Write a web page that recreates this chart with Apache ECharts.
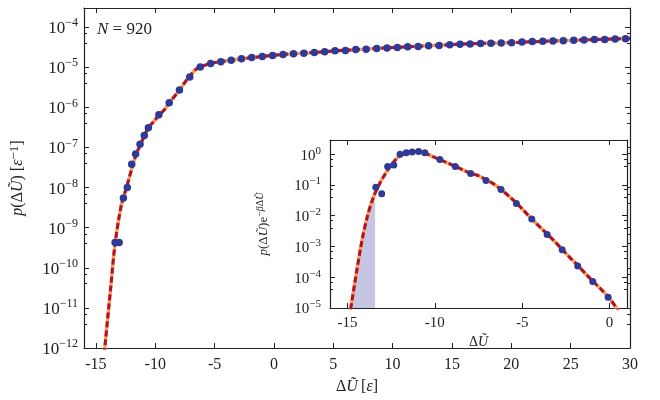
<!DOCTYPE html>
<html><head><meta charset="utf-8">
<script src="https://cdn.jsdelivr.net/npm/echarts@6/dist/echarts.min.js"></script>
<style>html,body{margin:0;padding:0;background:#fff}#c{width:660px;height:400px}</style>
</head><body><div id="c"></div>
<script>
// ---- main panel: histogram points p(dU)
const mainX = [-13.38, -13.04, -12.68, -12.35, -11.98, -11.65, -11.28, -10.92, -10.58, -9.69, -8.82, -7.96, -7.09, -6.20, -5.33, -4.47, -3.60, -2.73, -1.87, -0.98, -0.11, 0.77, 1.65, 2.53, 3.41, 4.28, 5.15, 6.03, 6.90, 7.77, 8.66, 9.53, 10.40, 11.27, 12.15, 13.03, 13.92, 14.81, 15.68, 16.53, 17.41, 18.28, 19.15, 20.02, 20.90, 21.77, 22.65, 23.51, 24.38, 25.26, 26.13, 27.00, 27.87, 28.75, 29.63];
const mainP = [4.3e-10, 4.3e-10, 5.5e-9, 1.0e-8, 3.8e-8, 6.9e-8, 1.2e-7, 2.0e-7, 3.1e-7, 6.5e-7, 1.3e-6, 2.7e-6, 5.75e-6, 1.02e-5, 1.24e-5, 1.38e-5, 1.5e-5, 1.62e-5, 1.74e-5, 1.86e-5, 1.95e-5, 2.09e-5, 2.16e-5, 2.24e-5, 2.34e-5, 2.45e-5, 2.57e-5, 2.63e-5, 2.75e-5, 2.82e-5, 2.92e-5, 3.02e-5, 3.09e-5, 3.24e-5, 3.31e-5, 3.43e-5, 3.47e-5, 3.63e-5, 3.72e-5, 3.80e-5, 3.89e-5, 3.98e-5, 4.03e-5, 4.07e-5, 4.27e-5, 4.37e-5, 4.42e-5, 4.52e-5, 4.57e-5, 4.68e-5, 4.79e-5, 4.90e-5, 4.95e-5, 5.07e-5, 5.13e-5];
// fitted curve, main panel
const fitX = [-14.45, -14.2, -13.75, -13.38, -12.85, -12.35, -12.0, -11.6, -11.2, -10.9, -10.55, -10.1, -9.7, -9.2, -8.8, -8.3, -7.9, -7.5, -7.1, -6.6, -6.2, -5.4, -4.5, -3, -1, 1, 3, 5, 7, 9, 11, 13, 15, 17, 19, 21, 23, 25, 27, 29, 30];
const fitP = [2.5e-13, 1.4e-12, 3.2e-11, 4.0e-10, 3.7e-9, 1.17e-8, 2.8e-8, 6.8e-8, 1.26e-7, 2.0e-7, 3.2e-7, 4.5e-7, 6.3e-7, 8.9e-7, 1.32e-6, 2.0e-6, 2.8e-6, 4.2e-6, 6.0e-6, 8.7e-6, 1.02e-5, 1.23e-5, 1.38e-5, 1.58e-5, 1.86e-5, 2.11e-5, 2.29e-5, 2.54e-5, 2.75e-5, 2.99e-5, 3.2e-5, 3.43e-5, 3.67e-5, 3.89e-5, 4.03e-5, 4.22e-5, 4.47e-5, 4.68e-5, 4.9e-5, 5.13e-5, 5.19e-5];

// ---- inset: reweighted distribution p(dU) e^{-beta dU}
const insetX = [-13.38, -13.04, -12.70, -12.35, -11.99, -11.64, -11.30, -10.93, -10.57, -9.71, -8.83, -7.95, -7.07, -6.21, -5.33, -4.45, -3.57, -2.71, -1.82, -0.96, -0.08];
const insetP = [0.084, 0.052, 0.40, 0.45, 1.0, 1.12, 1.19, 1.22, 1.12, 0.67, 0.40, 0.237, 0.141, 0.071, 0.025, 0.0079, 0.00245, 0.00078, 0.000234, 0.0000724, 0.0000224];
const insetFitX = [-15.1, -14.81, -14.5, -14.15, -13.85, -13.55, -13.2, -12.85, -12.5, -12.1, -11.7, -11.3, -10.9, -10.5, -10.1, -9.7, -9.25, -8.8, -8.35, -7.95, -7.5, -7.1, -6.65, -6.2, -5.75, -5.3, -4.9, -4.45, -4.0, -3.55, -3.1, -2.7, -2.25, -1.8, -1.4, -0.95, -0.5, -0.08, 0.2, 0.45, 0.7];
const insetFitP = [1.26e-6, 1.0e-5, 1.26e-4, 1.78e-3, 0.01, 0.0355, 0.1, 0.224, 0.447, 0.794, 1.1, 1.23, 1.2, 1.05, 0.83, 0.66, 0.513, 0.398, 0.302, 0.24, 0.2, 0.151, 0.11, 0.0708, 0.0427, 0.0251, 0.0145, 0.0079, 0.00437, 0.00251, 0.00138, 0.00079, 0.000427, 0.00024, 0.000135, 0.0000741, 0.0000417, 0.0000229, 0.0000145, 0.0000089, 0.000004];
// shaded region (curve below the cut)
const shadeX = [-15.1, -14.81, -14.5, -14.15, -13.85, -13.55, -13.42];
const shadeP = [1.26e-6, 1.0e-5, 1.26e-4, 1.78e-3, 0.01, 0.0355, 0.045];

const FONT = '"Liberation Serif", "DejaVu Serif", serif';
const AX = '#222';
const BLUE = '#2f3a96';
const RED = '#b3112b';
const ORANGE = '#f3a25c';
const SHADE = '#c4c6e3';

function pairs(xs, ys) { return xs.map((x, i) => [x, ys[i]]); }
function powLabel(v) {
  const l = Math.log10(v); const n = Math.round(l);
  if (Math.abs(l - n) > 1e-6) return '';
  return '{b|10}{s|' + (n < 0 ? '\u2212' + (-n) : n) + '}';
}
function richPow(bs, ss, pad) {
  return {
    b: { fontFamily: FONT, fontSize: bs, color: '#222', verticalAlign: 'bottom' },
    s: { fontFamily: FONT, fontSize: ss, color: '#222', verticalAlign: 'bottom', padding: [0, 0, pad, 0] }
  };
}
function xLab(v) { return (Math.abs(v % 5) < 1e-9) ? String(v) : ''; }

const chart = echarts.init(document.getElementById('c'), null, { renderer: 'canvas' });

const tickIn = { show: true, inside: true, length: 5, lineStyle: { color: AX, width: 1 } };
const minorIn = { show: true, splitNumber: 3, length: 3, lineStyle: { color: AX, width: 1 } };
const line = { show: true, onZero: false, lineStyle: { color: AX, width: 1.2 } };

const nameRich = (fs) => ({
  r: { fontFamily: FONT, fontSize: fs, color: '#222' },
  i: { fontFamily: FONT, fontSize: fs, color: '#222', fontStyle: 'italic' },
  s: { fontFamily: FONT, fontSize: fs - 3, color: '#222', verticalAlign: 'bottom', padding: [0, 0, 7, 0] },
  si: { fontFamily: FONT, fontSize: fs - 3, color: '#222', fontStyle: 'italic', verticalAlign: 'bottom', padding: [0, 0, 7, 0] }
});

const option = {
  animation: false,
  backgroundColor: '#fff',
  grid: [
    { left: 82, right: 30, top: 8, bottom: 48, show: false },
    { left: 330, right: 33, top: 140, bottom: 92, show: true, backgroundColor: '#fff', borderWidth: 0, z: 5 }
  ],
  xAxis: [
    { gridIndex: 0, type: 'value', min: -16, max: 30, splitNumber: 8, position: 'bottom',
      axisLine: line, axisTick: tickIn, splitLine: { show: false },
      axisLabel: { formatter: xLab, showMinLabel: false, margin: 9, fontFamily: FONT, fontSize: 16, color: '#222' },
      name: '{r|\u0394}{i|\u0168} {r|[}{i|\u03b5}{r|]}', nameLocation: 'middle', nameGap: 31,
      nameTextStyle: { rich: nameRich(16) } },
    { gridIndex: 0, type: 'value', min: -16, max: 30, splitNumber: 8, position: 'top',
      axisLine: line, axisTick: tickIn, splitLine: { show: false }, axisLabel: { show: false } },
    { gridIndex: 1, type: 'value', min: -16, max: 1, splitNumber: 4, position: 'bottom', z: 6,
      axisLine: line, axisTick: tickIn, splitLine: { show: false },
      axisLabel: { formatter: xLab, showMinLabel: false, showMaxLabel: false, margin: 8, fontFamily: FONT, fontSize: 15, color: '#222' },
      name: '{r|\u0394}{i|\u0168}', nameLocation: 'middle', nameGap: 27,
      nameTextStyle: { rich: nameRich(14) } },
    { gridIndex: 1, type: 'value', min: -16, max: 1, splitNumber: 4, position: 'top', z: 6,
      axisLine: line, axisTick: tickIn, splitLine: { show: false }, axisLabel: { show: false } }
  ],
  yAxis: [
    { gridIndex: 0, type: 'log', min: 1e-12, max: 3e-4, splitNumber: 8, position: 'left',
      axisLine: line, axisTick: tickIn, minorTick: minorIn, splitLine: { show: false }, minorSplitLine: { show: false },
      axisLabel: { formatter: powLabel, margin: 6, rich: richPow(17, 12, 8) },
      name: '{i|p}{r|(\u0394}{i|\u0168}{r|) [}{i|\u03b5}{s|\u22121}{r|]}', nameLocation: 'middle', nameRotate: 90, nameGap: 56,
      nameTextStyle: { rich: nameRich(16) } },
    { gridIndex: 0, type: 'log', min: 1e-12, max: 3e-4, splitNumber: 8, position: 'right',
      axisLine: line, axisTick: tickIn, minorTick: minorIn, splitLine: { show: false }, axisLabel: { show: false } },
    { gridIndex: 1, type: 'log', min: 1e-5, max: 2.9, splitNumber: 5, position: 'left', z: 6,
      axisLine: line, axisTick: tickIn, minorTick: minorIn, splitLine: { show: false }, minorSplitLine: { show: false },
      axisLabel: { formatter: powLabel, margin: 9, rich: richPow(15, 11, 7) },
      name: '{i|p}{r|(\u0394}{i|\u0168}{r|)e}{s|\u2212}{si|\u03b2}{s|\u0394}{si|\u0168}', nameLocation: 'middle', nameRotate: 90, nameGap: 58,
      nameTextStyle: { rich: nameRich(13) } },
    { gridIndex: 1, type: 'log', min: 1e-5, max: 2.9, splitNumber: 5, position: 'right', z: 6,
      axisLine: line, axisTick: tickIn, minorTick: minorIn, splitLine: { show: false }, axisLabel: { show: false } }
  ],
  graphic: [
    { type: 'text', left: 97, top: 21, z: 10,
      style: { text: '{i|N} = 920', rich: { i: { fontStyle: 'italic', fontFamily: FONT, fontSize: 17 } }, fontFamily: FONT, fontSize: 17, fill: '#222' } }
  ],
  series: [
    { type: 'line', xAxisIndex: 0, yAxisIndex: 0, data: pairs(fitX, fitP), showSymbol: false, smooth: 0.3, clip: true,
      lineStyle: { color: ORANGE, width: 3.4 }, z: 2, silent: true },
    { type: 'line', xAxisIndex: 0, yAxisIndex: 0, data: pairs(fitX, fitP), showSymbol: false, smooth: 0.3, clip: true,
      lineStyle: { color: RED, width: 3, type: [6, 3] }, z: 3, silent: true },
    { type: 'scatter', xAxisIndex: 0, yAxisIndex: 0, data: pairs(mainX, mainP), symbolSize: 7.5, clip: true,
      itemStyle: { color: BLUE, opacity: 1 }, z: 4 },

    { type: 'line', xAxisIndex: 2, yAxisIndex: 2, data: pairs(shadeX, shadeP), showSymbol: false, smooth: 0.3, clip: true,
      lineStyle: { width: 0, opacity: 0 }, areaStyle: { color: SHADE, opacity: 1, origin: 'start' }, z: 6, silent: true },
    { type: 'line', xAxisIndex: 2, yAxisIndex: 2, data: pairs(insetFitX, insetFitP), showSymbol: false, smooth: 0.3, clip: true,
      lineStyle: { color: ORANGE, width: 3.4 }, z: 7, silent: true },
    { type: 'line', xAxisIndex: 2, yAxisIndex: 2, data: pairs(insetFitX, insetFitP), showSymbol: false, smooth: 0.3, clip: true,
      lineStyle: { color: RED, width: 3, type: [6, 3] }, z: 8, silent: true },
    { type: 'scatter', xAxisIndex: 2, yAxisIndex: 2, data: pairs(insetX, insetP), symbolSize: 7, clip: true,
      itemStyle: { color: BLUE, opacity: 1 }, z: 9 }
  ]
};
chart.setOption(option);
</script></body></html>
